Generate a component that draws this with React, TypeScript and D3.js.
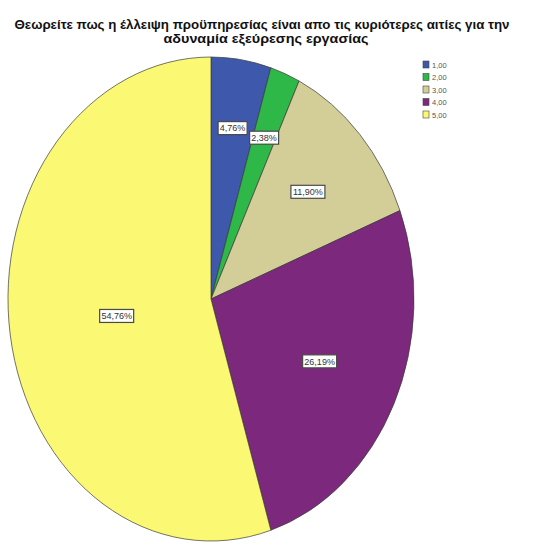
import { useEffect, useRef } from 'react';
import * as d3 from 'd3';

const categories = ['1,00', '2,00', '3,00', '4,00', '5,00'];
const counts = [2, 1, 5, 11, 23];
const percentLabels = ['4,76%', '2,38%', '11,90%', '26,19%', '54,76%'];
const colors = ['#3E58AC', '#2EB848', '#D3CE97', '#7C287D', '#FBF873'];
const titleLines = [
  'Θεωρείτε πως η έλλειψη προϋπηρεσίας είναι απο τις κυριότερες αιτίες για την',
  'αδυναμία εξεύρεσης εργασίας',
];

const W = 549;
const H = 549;

export default function App() {
  const svgRef = useRef<SVGSVGElement>(null);

  useEffect(() => {
    if (!svgRef.current) return;
    const svg = d3.select(svgRef.current);
    svg.selectAll('*').remove();

    svg.append('rect').attr('width', W).attr('height', H).attr('fill', '#fff');

    // title, stretched a little like the condensed SPSS font
    const titleLen = [495, 205];
    svg.append('g')
      .selectAll('text')
      .data(titleLines)
      .enter()
      .append('text')
      .attr('x', (d, i) => (i === 0 ? 262 : 266))
      .attr('y', (d, i) => 29 + i * 14)
      .attr('text-anchor', 'middle')
      .attr('font-family', 'Liberation Sans, Arial, sans-serif')
      .attr('font-weight', 'bold')
      .attr('font-size', 12.5)
      .attr('textLength', (d, i) => titleLen[i])
      .attr('lengthAdjust', 'spacingAndGlyphs')
      .attr('fill', '#111')
      .text(d => d);

    // pie (SPSS style: starts at 12 o'clock, clockwise), drawn as ellipse
    const cx = 211, cy = 299, rx = 203, ry = 242;
    const pie = d3.pie<number>().sort(null).value(d => d);
    const arcs = pie(counts);
    const arc = d3.arc<d3.PieArcDatum<number>>().innerRadius(0).outerRadius(rx);

    const g = svg.append('g')
      .attr('transform', `translate(${cx},${cy}) scale(1,${ry / rx})`);

    g.selectAll('path')
      .data(arcs)
      .enter()
      .append('path')
      .attr('d', d => arc(d))
      .attr('fill', (d, i) => colors[i])
      .attr('stroke', '#3a3a3a')
      .attr('stroke-width', 0.7)
      .attr('vector-effect', 'non-scaling-stroke');

    // labels near sector centroid
    const lg = svg.append('g');
    arcs.forEach((d, i) => {
      const mid = (d.startAngle + d.endAngle) / 2;
      const h = (d.endAngle - d.startAngle) / 2;
      let frac = (2 / 3) * Math.sin(h) / h;
      if (h < 0.2) frac += 0.05;
      frac = Math.max(frac, 0.47);
      const lx = cx + rx * frac * Math.sin(mid);
      const ly = cy - ry * frac * Math.cos(mid);
      const t = percentLabels[i];
      const bw = t.length * 5 + 4;
      const bh = 13;
      lg.append('rect')
        .attr('x', lx - bw / 2)
        .attr('y', ly - bh / 2)
        .attr('width', bw)
        .attr('height', bh)
        .attr('fill', '#fff')
        .attr('stroke', '#4a4a4a')
        .attr('stroke-width', 1.2);
      lg.append('text')
        .attr('x', lx)
        .attr('y', ly + 3.3)
        .attr('text-anchor', 'middle')
        .attr('font-family', 'Liberation Sans, Arial, sans-serif')
        .attr('font-size', 9)
        .attr('fill', '#333')
        .text(t);
    });

    // legend
    const leg = svg.append('g').attr('transform', 'translate(423,61)');
    const items = leg.selectAll('g')
      .data(categories)
      .enter()
      .append('g')
      .attr('transform', (d, i) => `translate(0,${i * 12.5})`);
    items.append('rect')
      .attr('width', 6)
      .attr('height', 7)
      .attr('fill', (d, i) => colors[i])
      .attr('stroke', '#444')
      .attr('stroke-width', 0.6);
    items.append('text')
      .attr('x', 9)
      .attr('y', 6.5)
      .attr('font-family', 'Liberation Sans, Arial, sans-serif')
      .attr('font-size', 7.5)
      .attr('fill', '#555')
      .text(d => d);
  }, []);

  return (
    <div style={{ position: 'absolute', left: 0, top: 0, width: W, height: H }}>
      <svg ref={svgRef} width={W} height={H} style={{ display: 'block' }}></svg>
    </div>
  );
}
